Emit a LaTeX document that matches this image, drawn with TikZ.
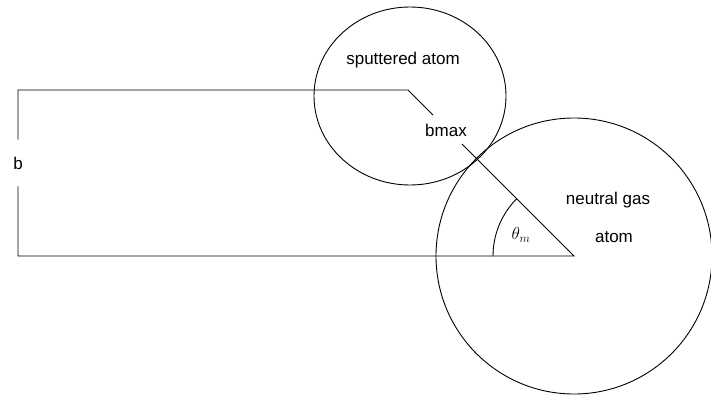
\documentclass[tikz,border=0pt]{standalone}
\usepackage{fontspec}
\setmainfont{Liberation Sans}
\begin{document}
\begin{tikzpicture}[x=1pt,y=-1pt,line width=0.9pt,
  every node/.style={font=\fontsize{17}{19}\selectfont,inner sep=1pt},
  gapnode/.style={minimum height=46pt,inner sep=0pt}]
  \useasboundingbox (0,0) rectangle (711,396);
  % impact parameter path
  \coordinate (tl) at (18,90);
  \coordinate (bl) at (18,256);
  \coordinate (bend) at (408,90);
  \coordinate (tip) at (433,115);
  \coordinate (apex) at (574,256);
  \coordinate (rim) at (462,144);
  \node[gapnode] (b) at (18,163) {b};
  \draw (b) -- (tl) -- (bend) -- (tip);
  \draw (b) -- (bl) -- (apex) -- (rim);
  % atoms
  \draw (410,96) ellipse [x radius=96, y radius=89];
  \draw (apex) circle [radius=138];
  \draw (apex) ++(180:81) arc [start angle=180, end angle=225, radius=81];
  \node (sput) at (403,60) {sputtered atom};
  \node (bmax) at (446,130) {bmax};
  \node (gas1) at (608,200) {neutral gas};
  \node (gas2) at (614,237) {atom};
  \node[inner sep=0pt] (theta) at (521,235) {$\theta_{m}$};
\end{tikzpicture}
\end{document}
